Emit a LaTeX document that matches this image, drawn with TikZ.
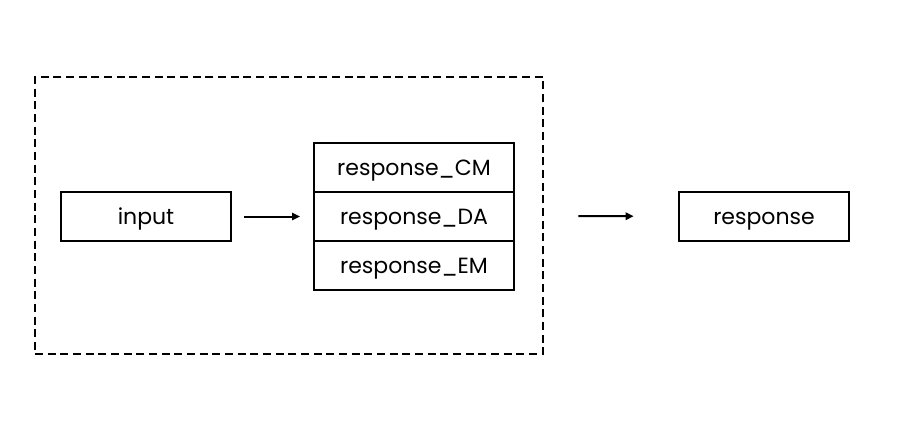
\documentclass[tikz,border=0pt]{standalone}
\usepackage{fontspec}
\setmainfont{Poppins}
\usetikzlibrary{arrows.meta, positioning}

\begin{document}
\begin{tikzpicture}[x=0.75pt, y=-0.75pt, >={Triangle[length=6pt,width=5.5pt]}, semithick,
    box/.style={draw, line width=1.3pt, outer sep=0pt, minimum width=127.5pt, minimum height=36.75pt,
        text height=12.5pt, text depth=0pt, font=\fontsize{16.5}{18}\selectfont},
    cell/.style={box, minimum width=150pt},
    frame/.style={draw, line width=1.2pt, dash pattern=on 6pt off 3.5pt, minimum width=381pt, minimum height=207.75pt},
    flow/.style={->, line width=1.5pt}]

    \useasboundingbox (0,0) rectangle (901,443);

    \node[frame]         (F) at (289,215.5) {};
    \node[box]           (I) at (146,216.5) {input};
    \node[cell]          (D) at (414,216.5) {response\_DA};
    \node[cell]          (C) [above=0pt of D] {response\_CM};
    \node[cell]          (E) [below=0pt of D] {response\_EM};
    \node[box]           (R) at (764,216.5) {response};

    \path (I) edge[flow, shorten <=10pt, shorten >=10.5pt]   (D.west)
          (F) edge[flow, shorten <=26pt, shorten >=34pt]     (R);
\end{tikzpicture}
\end{document}
